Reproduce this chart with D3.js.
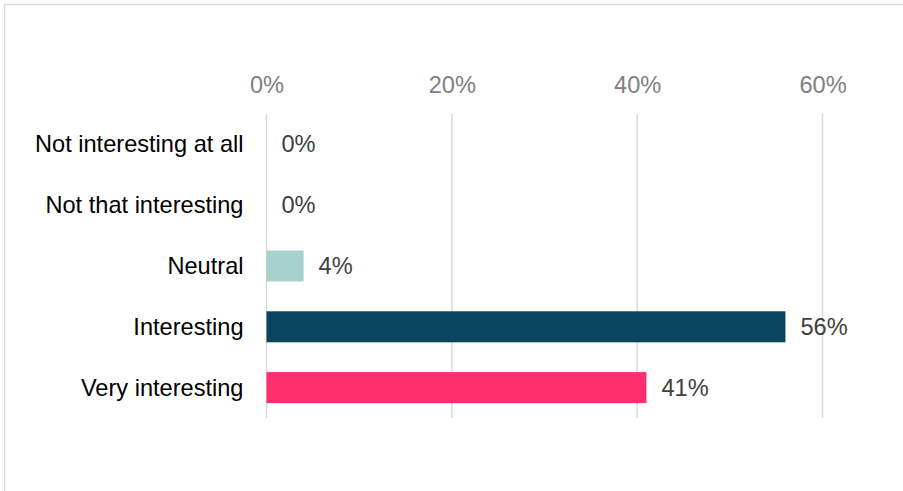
<!DOCTYPE html>
<html>
<head>
<meta charset="utf-8">
<script src="https://cdn.jsdelivr.net/npm/d3@7"></script>
<style>
  html, body { margin: 0; padding: 0; background: #fff; }
  svg { display: block; font-family: "Liberation Sans", Arial, sans-serif; }
</style>
</head>
<body>
<svg id="chart" width="903" height="491"></svg>
<script>
// Survey answers, top to bottom
const categories = ["Not interesting at all", "Not that interesting", "Neutral", "Interesting", "Very interesting"];
const values = [0, 0, 4, 56, 41];
const barColors = ["#a6d1cf", "#a6d1cf", "#a6d1cf", "#0b445f", "#ff2e6f"];
const tickValues = [0, 20, 40, 60];

const W = 903, H = 491;
const plot = { left: 266.5, right: 822.5, top: 114, bottom: 418 };
const fontSize = "23.6px";

const svg = d3.select("#chart");

// outer frame (extends past the right and bottom edges)
svg.append("rect")
  .attr("x", 4.5).attr("y", 4.5)
  .attr("width", W + 10).attr("height", H + 10)
  .attr("fill", "none")
  .attr("stroke", "#d9d9d9")
  .attr("stroke-width", 1.5);

const x = d3.scaleLinear().domain([0, 60]).range([plot.left, plot.right]);
const y = d3.scaleBand()
  .domain(categories)
  .range([plot.top, plot.bottom])
  .paddingInner(0.49)
  .paddingOuter(0.245);

// vertical gridlines
svg.append("g")
  .selectAll("line")
  .data(tickValues)
  .join("line")
  .attr("x1", d => x(d)).attr("x2", d => x(d))
  .attr("y1", plot.top).attr("y2", plot.bottom)
  .attr("stroke", "#d9d9d9")
  .attr("stroke-width", 1.5);

// top percentage axis
const xAxis = svg.append("g")
  .attr("transform", `translate(0,${plot.top})`)
  .call(d3.axisTop(x).tickValues(tickValues).tickFormat(d => d + "%").tickSize(0).tickPadding(21));
xAxis.select(".domain").remove();
xAxis.selectAll("text")
  .attr("fill", "#808080")
  .style("font-size", fontSize)
  .style("font-family", "'Liberation Sans', Arial, sans-serif");

// category labels
const yAxis = svg.append("g")
  .attr("transform", `translate(${plot.left},0)`)
  .call(d3.axisLeft(y).tickSize(0).tickPadding(23));
yAxis.select(".domain").remove();
yAxis.selectAll("text")
  .attr("fill", "#000")
  .attr("dy", "0.34em")
  .style("font-size", fontSize)
  .style("font-family", "'Liberation Sans', Arial, sans-serif");

// bars
svg.append("g")
  .selectAll("rect")
  .data(categories)
  .join("rect")
  .attr("x", x(0))
  .attr("y", d => y(d))
  .attr("width", (d, i) => x(values[i]) - x(0))
  .attr("height", y.bandwidth())
  .attr("fill", (d, i) => barColors[i]);

// value labels
svg.append("g")
  .selectAll("text")
  .data(categories)
  .join("text")
  .attr("x", (d, i) => x(values[i]) + 15)
  .attr("y", d => y(d) + y.bandwidth() / 2)
  .attr("dy", "0.34em")
  .attr("fill", "#404040")
  .style("font-size", fontSize)
  .text((d, i) => values[i] + "%");
</script>
</body>
</html>
